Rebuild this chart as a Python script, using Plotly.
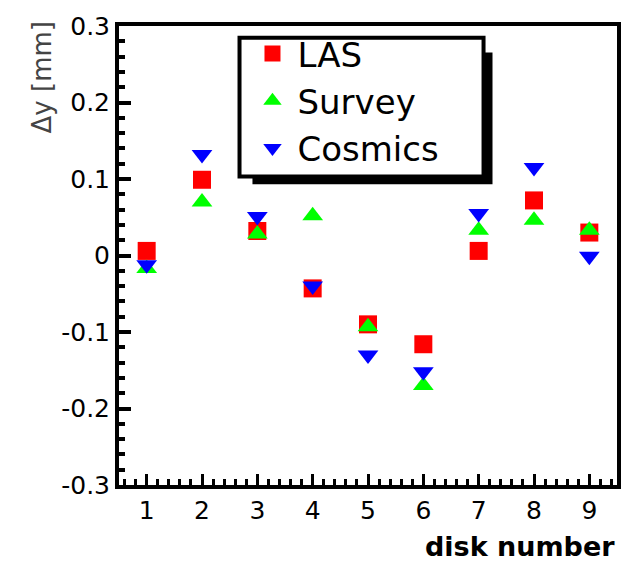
import plotly.graph_objects as go

disks = [1, 2, 3, 4, 5, 6, 7, 8, 9]
las = [0.006, 0.099, 0.032, -0.043, -0.090, -0.116, 0.006, 0.072, 0.030]
survey = [-0.017, 0.070, 0.028, 0.052, -0.093, -0.170, 0.033, 0.046, 0.033]
cosmics = [-0.012, 0.132, 0.051, -0.040, -0.130, -0.152, 0.055, 0.115, -0.001]

y_tickvals = [-0.3, -0.2, -0.1, 0, 0.1, 0.2, 0.3]
y_ticktext = ["-0.3", "-0.2", "-0.1", "0", "0.1", "0.2", "0.3"]
x_tickvals = disks
x_ticktext = [str(d) for d in disks]

W, H = 633, 562
L, R, T, B = 119, 619, 18, 485


def px(x):
    return (x - L) / (R - L)


def py(y):
    return (B - y) / (B - T)


fig = go.Figure()
fig.add_trace(go.Scatter(x=disks, y=las, mode="markers", name="LAS",
                         marker=dict(symbol="square", size=18, color="#ff0000", line=dict(width=0))))
fig.add_trace(go.Scatter(x=disks, y=survey, mode="markers", name="Survey",
                         marker=dict(symbol="triangle-up", size=18, color="#00ff00", line=dict(width=0))))
fig.add_trace(go.Scatter(x=disks, y=cosmics, mode="markers", name="Cosmics",
                         marker=dict(symbol="triangle-down", size=18, color="#0000ff", line=dict(width=0))))

font_main = "DejaVu Sans, Liberation Sans, Arial, sans-serif"

fig.update_layout(
    width=W, height=H,
    margin=dict(l=L, r=W - R, t=T, b=H - B, pad=0),
    paper_bgcolor="white", plot_bgcolor="white",
    font=dict(family=font_main, color="black"),
    showlegend=True,
    legend=dict(
        x=px(248), y=py(17), xanchor="left", yanchor="top",
        bgcolor="rgba(0,0,0,0)", borderwidth=0,
        font=dict(family=font_main, size=34, color="black"),
        itemsizing="trace", itemwidth=40,
    ),
    xaxis=dict(
        range=[0.5, 9.5], tickvals=x_tickvals, ticktext=x_ticktext,
        showgrid=False, zeroline=False,
        showline=True, linecolor="black", linewidth=4, mirror=True,
        ticks="inside", ticklen=11, tickwidth=3, tickcolor="black",
        minor=dict(dtick=0.2, ticks="inside", ticklen=6, tickwidth=3, tickcolor="black"),
        tickfont=dict(family=font_main, size=25, color="black"),
    ),
    yaxis=dict(
        range=[-0.3, 0.3], tickvals=y_tickvals, ticktext=y_ticktext,
        showgrid=False, zeroline=False,
        showline=True, linecolor="black", linewidth=4, mirror=True,
        ticks="inside", ticklen=12, tickwidth=4, tickcolor="black",
        minor=dict(tickvals=[round(-0.3 + 0.02 * i, 2) for i in range(31)],
                   ticks="inside", ticklen=6, tickwidth=4, tickcolor="black"),
        tickfont=dict(family=font_main, size=25, color="black"),
    ),
    shapes=[
        dict(type="rect", xref="paper", yref="paper",
             x0=px(253), x1=px(494), y0=py(179), y1=py(45),
             fillcolor="black", line=dict(width=0), layer="above"),
        dict(type="rect", xref="paper", yref="paper",
             x0=px(240), x1=px(485), y0=py(171), y1=py(30),
             fillcolor="white", line=dict(color="black", width=4), layer="above"),
    ],
    annotations=[
        dict(text="<b>disk number</b>", xref="paper", yref="paper",
             x=px(619), y=py(548), xanchor="right", yanchor="middle",
             showarrow=False, font=dict(family=font_main, size=27, color="black")),
        dict(text="Δy [mm]", xref="paper", yref="paper",
             x=px(42), y=py(70), xanchor="center", yanchor="middle", textangle=-90,
             showarrow=False, font=dict(family=font_main, size=26, color="#444444")),
    ],
)

fig.write_html("out.html", config={"displayModeBar": False},
               post_script="document.body.style.margin='0px';document.body.style.overflow='hidden';")
